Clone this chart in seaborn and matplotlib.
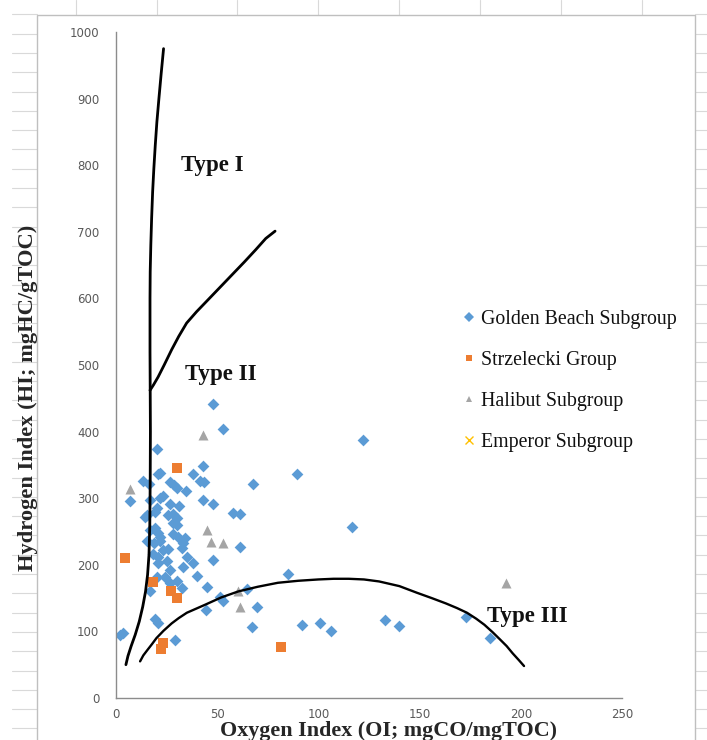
import numpy as np
import pandas as pd
import matplotlib
matplotlib.use("Agg")
import matplotlib.pyplot as plt
import seaborn as sns
from matplotlib.lines import Line2D
from matplotlib.patches import Rectangle

# ---------------- data ----------------
golden_oi = [48.1, 53.0, 121.8, 20.1, 20.9, 21.7, 38.2, 43.1, 13.1, 16.3,
             26.7, 28.7, 41.3, 43.4, 30.0, 34.4, 67.8, 89.4, 6.9, 16.8,
             21.7, 23.4, 26.9, 31.0, 43.1, 48.1, 20.1, 15.1, 19.3, 25.8,
             28.3, 30.0, 28.3, 30.0, 14.3, 16.8, 19.3, 20.6, 21.7, 28.3,
             30.8, 15.1, 18.9, 21.7, 34.1, 33.2, 32.4, 23.4, 25.8, 18.4,
             20.9, 25.0, 34.9, 38.2, 20.9, 26.7, 33.2, 39.8, 20.1, 24.2,
             30.0, 26.7, 32.4, 44.8, 58.0, 61.4, 116.7, 61.3, 48.1, 85.0,
             64.6, 53.0, 51.6, 69.9, 44.3, 67.0, 91.7, 101.0, 106.1, 132.9,
             140.0, 172.9, 184.8, 16.8, 19.5, 20.9, 29.1, 2.2, 3.6]
golden_hi = [442, 404, 388, 374, 337, 338, 337, 349, 326, 322,
             325, 320, 326, 324, 316, 311, 322, 336, 296, 297,
             301, 303, 291, 288, 297, 291, 286, 275, 280, 275,
             277, 271, 263, 260, 272, 252, 255, 247, 242, 246,
             242, 235, 232, 235, 240, 232, 225, 222, 223, 216,
             212, 206, 211, 203, 202, 192, 197, 183, 181, 181,
             176, 172, 165, 167, 278, 276, 257, 226, 207, 186,
             163, 145, 152, 137, 132, 106, 110, 113, 100, 117,
             108, 121, 90, 160, 119, 113, 87, 95, 97]

strzelecki_oi = [4.6, 30.3, 18.4, 27.1, 30.2, 23.2, 22.0, 81.5]
strzelecki_hi = [210, 346, 174, 160, 150, 82, 73, 76]

halibut_oi = [43.1, 6.9, 45.0, 46.9, 53.0, 60.4, 61.3, 192.7]
halibut_hi = [395, 314, 252, 234, 233, 160, 137, 173]

emperor_oi = []
emperor_hi = []

group_names = ["Golden Beach Subgroup", "Strzelecki Group",
               "Halibut Subgroup", "Emperor Subgroup"]

# kerogen type boundary curves
type1_oi = [23.5, 22.3, 21.2, 20.2, 19.4, 18.7, 18.1, 17.6, 17.2, 16.9,
            16.8, 16.8, 16.9, 17.0, 16.9, 16.7, 16.3, 15.6, 14.6, 13.2,
            11.5, 9.5, 7.5, 5.9, 4.9]
type1_hi = [975, 937, 900, 865, 830, 795, 760, 720, 680, 640,
            600, 520, 462, 400, 327, 260, 215, 185, 160, 137,
            115, 95, 78, 63, 50]
type2_oi = [16.8, 18.5, 20.8, 23.8, 27.5, 31.0, 34.9, 39.8, 45.5, 51.5,
            57.5, 63.5, 69.0, 74.0, 78.6]
type2_hi = [462, 470, 482, 500, 523, 543, 563, 580, 598, 617,
            636, 655, 673, 690, 701]
type3_oi = [11.9, 13.5, 15.5, 17.8, 20.0, 23.5, 27.5, 31.0, 35.0, 39.5,
            44.0, 52.0, 60.4, 70.0, 80.0, 90.0, 100.0, 107.5, 115.0, 122.5,
            130.0, 140.0, 148.7, 156.0, 163.0, 168.5, 173.4, 178.0, 182.0, 186.0,
            189.7, 193.0, 196.0, 199.0, 201.6]
type3_hi = [55, 64, 72, 81, 90, 101, 112, 120, 128, 134,
            140, 151, 160, 167, 173, 176, 178, 179, 179, 178,
            175, 168, 158, 150, 142, 135, 128, 119, 110, 99,
            88, 78, 67, 57, 48]

type_labels = ["Type I", "Type II", "Type III"]
type_label_oi = [47.4, 51.9, 203.0]
type_label_hi = [799, 485, 122]

x_ticks = [0, 50, 100, 150, 200, 250]
y_ticks = list(range(0, 1001, 100))

# ---------------- build table ----------------
frames = []
for name, xs, ys in zip(group_names,
                        [golden_oi, strzelecki_oi, halibut_oi, emperor_oi],
                        [golden_hi, strzelecki_hi, halibut_hi, emperor_hi]):
    frames.append(pd.DataFrame({"OI": xs, "HI": ys, "group": name}))
df = pd.concat(frames, ignore_index=True)

colors = {"Golden Beach Subgroup": "#5B9BD5", "Strzelecki Group": "#ED7D31",
          "Halibut Subgroup": "#A5A5A5", "Emperor Subgroup": "#FFC000"}
markers = {"Golden Beach Subgroup": "D", "Strzelecki Group": "s",
           "Halibut Subgroup": "^", "Emperor Subgroup": "x"}
msize = {"Golden Beach Subgroup": 36, "Strzelecki Group": 42,
         "Halibut Subgroup": 52, "Emperor Subgroup": 30}

# ---------------- figure ----------------
sns.set_theme(style="white")
plt.rcParams['font.family'] = ['DejaVu Sans']

W, H = 707, 740
fig = plt.figure(figsize=(W / 100, H / 100), dpi=100)
fig.patch.set_facecolor("white")

def fx(px):
    return px / W

def fy(py):
    return 1 - py / H

# spreadsheet cell grid around the chart object (drawn beneath the axes)
gcol = "#D9D9D9"
for py in np.arange(14.3, H, 19.3):
    fig.add_artist(Line2D([fx(12), fx(37)], [fy(py), fy(py)], color=gcol, lw=0.8, zorder=-3))
    fig.add_artist(Line2D([fx(695), fx(707)], [fy(py), fy(py)], color=gcol, lw=0.8, zorder=-3))
for px in [76, 157, 237, 318, 399, 480, 561, 642]:
    fig.add_artist(Line2D([fx(px), fx(px)], [fy(0), fy(15)], color=gcol, lw=0.8, zorder=-3))
fig.add_artist(Rectangle((fx(37), fy(760)), fx(695) - fx(37), fy(15) - fy(760),
                         fill=True, facecolor="white", edgecolor="#BFBFBF", lw=1.0,
                         zorder=-2))

ax = fig.add_axes([fx(116), fy(698), fx(622) - fx(116), fy(32) - fy(698)])
ax.set_zorder(1)
ax.patch.set_alpha(0)

for name in group_names:
    sub = df[df["group"] == name]
    if len(sub) == 0:
        continue
    sns.scatterplot(data=sub, x="OI", y="HI", ax=ax, marker=markers[name],
                    color=colors[name], s=msize[name], linewidth=0,
                    legend=False, zorder=2)

ax.plot(type1_oi, type1_hi, color="black", lw=2.0, zorder=3,
        solid_capstyle="round", solid_joinstyle="round")
ax.plot(type2_oi, type2_hi, color="black", lw=2.0, zorder=3,
        solid_capstyle="round", solid_joinstyle="round")
ax.plot(type3_oi, type3_hi, color="black", lw=1.7, zorder=3,
        solid_capstyle="round", solid_joinstyle="round")

for t, x, y in zip(type_labels, type_label_oi, type_label_hi):
    ax.text(x, y, t, ha="center", va="center", fontsize=16.5, fontweight="bold",
            family=["Liberation Serif", "DejaVu Serif"], color="#111111")

ax.set_xlim(0, 250)
ax.set_ylim(0, 1000)
ax.set_xticks(x_ticks)
ax.set_yticks(y_ticks)
ax.set_xlabel("")
ax.set_ylabel("")
for s in ["top", "right"]:
    ax.spines[s].set_visible(False)
for s in ["left", "bottom"]:
    ax.spines[s].set_color("#8C8C8C")
    ax.spines[s].set_linewidth(1.0)
ax.tick_params(axis="both", direction="out", length=4, width=1.0,
               color="#8C8C8C", labelsize=8.5, labelcolor="#595959")
ax.tick_params(axis="y", pad=8)
ax.tick_params(axis="x", pad=3)
ax.grid(False)

fig.text(fx(389), fy(731), "Oxygen Index (OI; mgCO/mgTOC)", ha="center", va="center",
         fontsize=15.8, fontweight="bold", family=["Liberation Serif", "DejaVu Serif"])
fig.text(fx(28), fy(398), "Hydrogen Index (HI; mgHC/gTOC)", ha="center", va="center",
         rotation=90, fontsize=16.2, fontweight="bold",
         family=["Liberation Serif", "DejaVu Serif"])

handles = []
for name in group_names:
    handles.append(Line2D([], [], linestyle="", marker=markers[name],
                          color=colors[name], markersize=5 if name != "Emperor Subgroup" else 6,
                          markeredgewidth=0 if name != "Emperor Subgroup" else 1.0))
leg = ax.legend(handles, group_names, loc="upper left",
                bbox_to_anchor=(fx(463), fy(310)), bbox_transform=fig.transFigure,
                frameon=False, prop={"family": "Liberation Serif", "size": 14.3},
                handlelength=0.6, handletextpad=0.3, labelspacing=1.1,
                borderpad=0, borderaxespad=0)
for t in leg.get_texts():
    t.set_color("#111111")

fig.savefig("out.png", dpi=100, facecolor="white")
